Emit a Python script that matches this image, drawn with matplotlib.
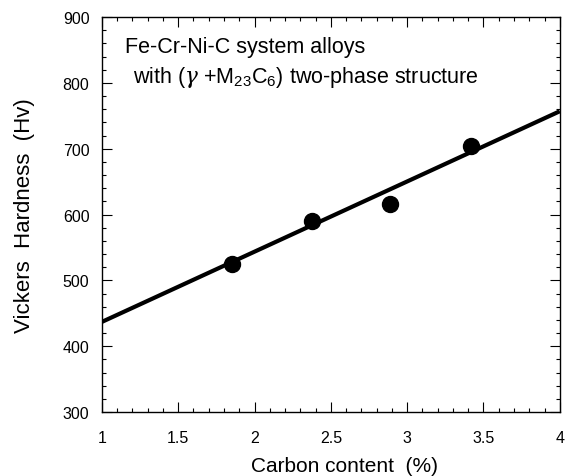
import matplotlib
matplotlib.use("Agg")
import matplotlib.pyplot as plt
import numpy as np
from matplotlib.ticker import MultipleLocator

plt.rcParams['font.family'] = ['Liberation Sans', 'DejaVu Sans']
plt.rcParams['mathtext.fontset'] = 'custom'
plt.rcParams['mathtext.rm'] = 'Liberation Sans'
plt.rcParams['mathtext.it'] = 'DejaVu Serif:italic'

# Measured hardness vs. carbon content
carbon = [1.85, 2.375, 2.89, 3.42]
hardness = [525, 590, 616, 704]

# Regression line endpoints
fit_x = [1.0, 4.0]
fit_y = [437, 757]

x_ticks = [1, 1.5, 2, 2.5, 3, 3.5, 4]
x_labels = ['1', '1.5', '2', '2.5', '3', '3.5', '4']
y_ticks = [300, 400, 500, 600, 700, 800, 900]

fig = plt.figure(figsize=(5.66, 4.77), dpi=100)
ax = fig.add_axes([0.180, 0.134, 0.809, 0.828])

ax.plot(fit_x, fit_y, color='black', lw=3.0, solid_capstyle='butt', zorder=2)
ax.plot(carbon, hardness, 'o', color='black', ms=11.5, zorder=3)

ax.set_xlim(1, 4)
ax.set_ylim(300, 900)
ax.set_xticks(x_ticks)
ax.set_xticklabels(x_labels)
ax.set_yticks(y_ticks)
ax.xaxis.set_minor_locator(MultipleLocator(0.1))
ax.yaxis.set_minor_locator(MultipleLocator(20))
ax.tick_params(which='both', direction='in', top=True, right=True, labelsize=11.5, width=0.8)
ax.tick_params(axis='x', which='major', length=7, pad=13)
ax.tick_params(axis='y', which='major', length=7, pad=9)
ax.tick_params(which='minor', length=3)
for s in ax.spines.values():
    s.set_linewidth(1.0)

ax.set_xlabel('Carbon content  (%)', fontsize=15, va='center')
ax.xaxis.set_label_coords(0.53, -0.134)
ax.set_ylabel('Vickers  Hardness  (Hv)', fontsize=16, va='center')
ax.yaxis.set_label_coords(-0.168, 0.5)

ax.text(0.05, 0.925, 'Fe-Cr-Ni-C system alloys', transform=ax.transAxes,
        fontsize=15.5, va='center', ha='left')
ax.text(0.068, 0.85, r'with ($\gamma$ +M$_{23}$C$_6$) two-phase structure',
        transform=ax.transAxes, fontsize=15.5, va='center', ha='left')

fig.savefig('out.png', dpi=100)
